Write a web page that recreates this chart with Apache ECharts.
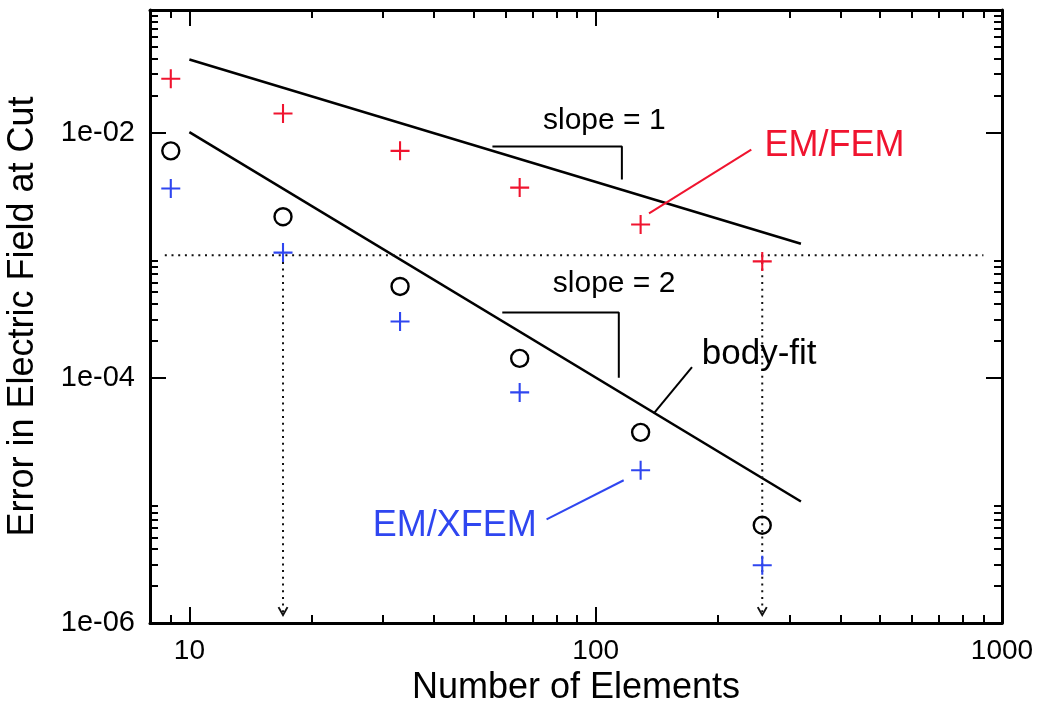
<!DOCTYPE html>
<html>
<head>
<meta charset="utf-8">
<script src="https://cdn.jsdelivr.net/npm/echarts@6/dist/echarts.min.js"></script>
<style>
html,body{margin:0;padding:0;background:#fff;}
#chart{width:1037px;height:709px;}
</style>
</head>
<body>
<div id="chart"></div>
<script>
// ---------- data ----------
const elements = [9, 17, 33, 65, 129, 257];
const emFem   = [0.0275, 0.0143, 0.0071, 0.00356, 0.00178, 0.00089];
const bodyFit = [0.0071, 0.00206, 0.000556, 0.000144, 0.0000359, 0.00000627];
const emXfem  = [0.0035, 0.00105, 0.000288, 0.000076, 0.0000176, 0.00000296];

const slope1Line = [[10, 0.0395], [320, 0.00124]];
const slope2Line = [[10, 0.0101], [320, 0.0000098]];
const thresholdLine = [[8.7, 0.001], [900, 0.001]];
const arrow17  = [[17, 0.001], [17, 0.00000112]];
const arrow257 = [[257, 0.001], [257, 0.00000112]];
const arrowHeads = [[17, 0.00000125], [257, 0.00000125]];

const slope1Tri = [[55.7, 0.00769], [116, 0.00769], [116, 0.00414]];
const slope2Tri = [[58.9, 0.000341], [114, 0.000341], [114, 0.0001]];

const femLeader  = [[241.5, 0.00726], [135.3, 0.00219]];
const fitLeader  = [[172.6, 0.000122], [139, 0.0000513]];
const xfemLeader = [[75.7, 0.0000070], [117.2, 0.0000146]];

const annotations = [
  {text: 'slope = 1', pos: [105, 0.01253],   kind: 'slope'},
  {text: 'slope = 2', pos: [111, 0.000587],  kind: 'slope'},
  {text: 'EM/FEM',    pos: [387, 0.00778],   kind: 'fem'},
  {text: 'body-fit',  pos: [252.6, 0.000155], kind: 'fit'},
  {text: 'EM/XFEM',   pos: [45, 0.00000622], kind: 'xfem'}
];

const xMajorTicks = [10, 100, 1000];
const xTickLabels = ['10', '100', '1000'];
const xMinorTicks = [9, 20, 30, 40, 50, 60, 70, 80, 90, 200, 300, 400, 500, 600, 700, 800, 900];
const yMajorTicks = [1e-6, 1e-4, 1e-2];
const yTickLabels = ['1e-06', '1e-04', '1e-02'];
const yMinorTicks = [2e-6, 3e-6, 4e-6, 5e-6, 6e-6, 7e-6, 8e-6, 9e-6,
                     2e-4, 3e-4, 4e-4, 5e-4, 6e-4, 7e-4, 8e-4, 9e-4,
                     2e-2, 3e-2, 4e-2, 5e-2, 6e-2, 7e-2, 8e-2, 9e-2];

// ---------- style ----------
const FONT = 'Liberation Sans, Arial, Helvetica, sans-serif';
const RED = '#f0142f';
const BLUE = '#2f46f0';
const BLACK = '#000';
const PLUS = 'path://M0,4.45H10V5.55H0Z M4.45,0H5.55V10H4.45Z';
const CHEVRON = 'path://M0,0L5,9L10,0';

const X_MIN = 8, X_MAX = 1000, Y_MIN = 1e-6, Y_MAX = 1e-1;

function xAxisCfg(gridIndex, position, ticks, len, withLabels) {
  const cfg = {
    type: 'log', gridIndex, position, min: X_MIN, max: X_MAX,
    axisLine: {show: gridIndex === 0, lineStyle: {color: BLACK, width: 3}},
    axisTick: {show: true, inside: true, length: len, customValues: ticks,
               lineStyle: {color: BLACK, width: 2}},
    axisLabel: {show: false},
    splitLine: {show: false}, minorTick: {show: false}, minorSplitLine: {show: false}
  };
  if (withLabels) {
    cfg.axisLabel = {
      show: true, customValues: xMajorTicks, margin: 14,
      fontSize: 28, color: BLACK, fontFamily: FONT,
      formatter: v => xTickLabels[Math.round(Math.log10(v)) - 1]
    };
    cfg.name = 'Number of Elements';
    cfg.nameLocation = 'middle';
    cfg.nameGap = 36;
    cfg.nameTextStyle = {fontSize: 36, color: BLACK, fontFamily: FONT};
  }
  return cfg;
}
function yAxisCfg(gridIndex, position, ticks, len, withLabels) {
  const cfg = {
    type: 'log', gridIndex, position, min: Y_MIN, max: Y_MAX,
    axisLine: {show: gridIndex === 0, lineStyle: {color: BLACK, width: 3}},
    axisTick: {show: true, inside: true, length: len, customValues: ticks,
               lineStyle: {color: BLACK, width: 2}},
    axisLabel: {show: false},
    splitLine: {show: false}, minorTick: {show: false}, minorSplitLine: {show: false}
  };
  if (withLabels) {
    cfg.axisLabel = {
      show: true, customValues: yMajorTicks, margin: 15,
      fontSize: 29, color: BLACK, fontFamily: FONT,
      formatter: v => yTickLabels[(Math.round(Math.log10(v)) + 6) / 2]
    };
    cfg.name = 'Error in Electric Field at Cut';
    cfg.nameLocation = 'middle';
    cfg.nameGap = 109;
    cfg.nameTextStyle = {fontSize: 36, color: BLACK, fontFamily: FONT};
  }
  return cfg;
}

function lineSeries(name, data, color, width, type) {
  return {
    name, type: 'line', data, xAxisIndex: 0, yAxisIndex: 0,
    symbol: 'none', showSymbol: false, silent: true, clip: false,
    lineStyle: {color, width, type: type || 'solid', opacity: 1}, z: 3
  };
}
function pairs(xs, ys) { return xs.map((x, i) => [x, ys[i]]); }

const labelStyles = {
  slope: {fontSize: 30, color: BLACK},
  fem:   {fontSize: 36, color: RED},
  fit:   {fontSize: 35, color: BLACK},
  xfem:  {fontSize: 36, color: BLUE}
};

const gridBox = {left: 150, top: 10, right: 35, bottom: 86, containLabel: false, outerBoundsMode: 'none'};

const option = {
  animation: false,
  backgroundColor: '#fff',
  textStyle: {fontFamily: FONT},
  grid: [Object.assign({}, gridBox), Object.assign({}, gridBox)],
  xAxis: [
    xAxisCfg(0, 'bottom', xMajorTicks, 16, true),
    xAxisCfg(0, 'top', xMajorTicks, 16, false),
    xAxisCfg(1, 'bottom', xMinorTicks, 8, false),
    xAxisCfg(1, 'top', xMinorTicks, 8, false)
  ],
  yAxis: [
    yAxisCfg(0, 'left', yMajorTicks, 16, true),
    yAxisCfg(0, 'right', yMajorTicks, 16, false),
    yAxisCfg(1, 'left', yMinorTicks, 8, false),
    yAxisCfg(1, 'right', yMinorTicks, 8, false)
  ],
  series: [
    lineSeries('slope1', slope1Line, BLACK, 2.5),
    lineSeries('slope2', slope2Line, BLACK, 2.5),
    lineSeries('threshold', thresholdLine, '#111', 2, [2, 4.7]),
    lineSeries('arrow17', arrow17, '#111', 2, [2, 4.7]),
    lineSeries('arrow257', arrow257, '#111', 2, [2, 4.7]),
    lineSeries('tri1', slope1Tri, BLACK, 2),
    lineSeries('tri2', slope2Tri, BLACK, 2),
    lineSeries('femLeader', femLeader, RED, 2),
    lineSeries('fitLeader', fitLeader, BLACK, 2),
    lineSeries('xfemLeader', xfemLeader, BLUE, 2),
    {
      name: 'arrowHeads', type: 'scatter', data: arrowHeads, xAxisIndex: 0, yAxisIndex: 0,
      symbol: CHEVRON, symbolSize: [9, 8], silent: true,
      itemStyle: {color: 'transparent', borderColor: '#111', borderWidth: 1.8, opacity: 1}, z: 4
    },
    {
      name: 'EM/FEM', type: 'scatter', data: pairs(elements, emFem), xAxisIndex: 0, yAxisIndex: 0,
      symbol: PLUS, symbolSize: 19, silent: true, itemStyle: {color: RED, opacity: 1}, z: 5
    },
    {
      name: 'body-fit', type: 'scatter', data: pairs(elements, bodyFit), xAxisIndex: 0, yAxisIndex: 0,
      symbol: 'circle', symbolSize: 17, silent: true,
      itemStyle: {color: 'transparent', borderColor: BLACK, borderWidth: 2.4, opacity: 1}, z: 5
    },
    {
      name: 'EM/XFEM', type: 'scatter', data: pairs(elements, emXfem), xAxisIndex: 0, yAxisIndex: 0,
      symbol: PLUS, symbolSize: 19, silent: true, itemStyle: {color: BLUE, opacity: 1}, z: 5
    },
    {
      name: 'annotations', type: 'scatter', xAxisIndex: 0, yAxisIndex: 0,
      symbolSize: 0, silent: true, z: 6,
      itemStyle: {opacity: 1},
      data: annotations.map(a => ({
        value: a.pos,
        label: Object.assign({
          show: true, position: 'inside', align: 'center', verticalAlign: 'middle',
          formatter: a.text, fontFamily: FONT, opacity: 1,
          textBorderWidth: 0
        }, labelStyles[a.kind])
      }))
    }
  ]
};

const chart = echarts.init(document.getElementById('chart'), null, {renderer: 'canvas'});
chart.setOption(option);
</script>
</body>
</html>
